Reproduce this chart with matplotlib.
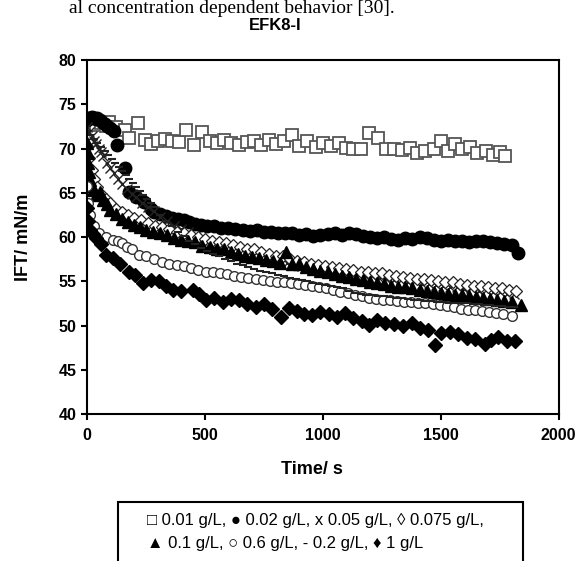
import matplotlib
matplotlib.use('Agg')
import matplotlib.pyplot as plt
from matplotlib.patches import Rectangle

plt.rcParams['font.family'] = ['Liberation Sans', 'DejaVu Sans']

# 0.01 g/L (open squares)
t_001 = [5, 20, 40, 60, 80, 95, 125, 160, 180, 215,
         245, 270, 300, 330, 360, 390, 420, 455, 490, 520,
         550, 580, 610, 645, 680, 710, 740, 770, 800, 835,
         870, 900, 935, 970, 1000, 1035, 1070, 1100, 1130, 1160,
         1195, 1235, 1270, 1300, 1335, 1370, 1400, 1435, 1470, 1503,
         1530, 1561, 1590, 1625, 1655, 1690, 1720, 1750, 1773]
ift_001 = [72.8, 73.0, 72.7, 72.9, 72.6, 73.0, 72.4, 72.1, 71.2, 72.9,
           71.0, 70.5, 70.8, 71.1, 70.9, 70.7, 72.1, 70.4, 71.9, 70.9,
           70.6, 71.0, 70.6, 70.4, 70.7, 70.8, 70.4, 71.0, 70.5, 70.9,
           71.5, 70.3, 70.8, 70.2, 70.6, 70.3, 70.6, 70.1, 70.0, 69.9,
           71.8, 71.2, 70.0, 69.9, 69.8, 70.1, 69.5, 69.7, 70.0, 70.8,
           69.7, 70.5, 69.9, 70.2, 69.5, 69.7, 69.3, 69.6, 69.1]

# 0.02 g/L (filled circles)
t_002 = [0, 8, 15, 22, 30, 38, 45, 55, 65, 75,
         85, 100, 115, 126, 160, 180, 210, 244, 270, 286,
         310, 335, 360, 385, 410, 435, 460, 485, 510, 540,
         570, 600, 630, 660, 690, 720, 750, 780, 810, 840,
         870, 900, 930, 960, 990, 1020, 1050, 1080, 1110, 1140,
         1170, 1200, 1230, 1260, 1290, 1320, 1350, 1380, 1410, 1440,
         1470, 1500, 1530, 1560, 1590, 1620, 1650, 1680, 1710, 1740,
         1770, 1800, 1828]
ift_002 = [73.2, 73.5, 73.4, 73.6, 73.5, 73.3, 73.4, 73.2, 73.0, 72.8,
           72.6, 72.3, 72.0, 70.4, 67.8, 65.1, 64.5, 64.0, 63.2, 62.8,
           62.6, 62.4, 62.2, 62.0, 61.9, 61.7, 61.5, 61.4, 61.2, 61.2,
           61.0, 61.0, 60.9, 60.8, 60.7, 60.8, 60.6, 60.6, 60.4, 60.5,
           60.4, 60.2, 60.3, 60.1, 60.2, 60.3, 60.4, 60.2, 60.5, 60.3,
           60.1, 60.0, 59.9, 60.0, 59.8, 59.7, 59.9, 59.8, 60.0, 59.9,
           59.7, 59.6, 59.7, 59.5, 59.6, 59.4, 59.5, 59.6, 59.4, 59.3,
           59.2, 59.1, 58.2]

# 0.05 g/L (x)
t_005 = [0, 10, 20, 30, 40, 50, 60, 70, 85, 100,
         115, 130, 150, 170, 190, 210, 235, 260, 285, 310,
         340, 370, 400, 430, 460, 490, 520, 550, 580, 610,
         640, 670, 700, 730, 760, 790, 820, 850, 880, 910,
         940, 970, 1000, 1030, 1060, 1090, 1120, 1150, 1180, 1210,
         1240, 1270, 1300, 1330, 1360, 1390, 1420, 1450, 1480, 1510,
         1540, 1570, 1600, 1630, 1660, 1690, 1720, 1750, 1780, 1810]
ift_005 = [72.4, 71.9, 71.4, 70.9, 70.5, 70.0, 69.6, 69.1, 68.4, 67.8,
           67.2, 66.6, 66.0, 65.4, 64.9, 64.5, 63.9, 63.4, 62.9, 62.3,
           61.8, 61.3, 60.9, 60.6, 60.0, 59.7, 59.3, 59.2, 58.9, 58.7,
           58.4, 58.2, 57.9, 57.8, 57.6, 57.4, 57.1, 57.1, 56.8, 56.7,
           56.6, 56.5, 56.3, 56.3, 56.0, 56.0, 55.8, 55.8, 55.6, 55.6,
           55.4, 55.3, 55.2, 55.1, 54.9, 55.0, 54.7, 54.7, 54.6, 54.5,
           54.3, 54.4, 54.1, 54.2, 53.9, 54.0, 53.8, 53.8, 53.6, 53.6]

# 0.075 g/L (open diamonds)
t_0075 = [0, 10, 20, 30, 45, 60, 80, 100, 125, 150,
          175, 200, 230, 260, 290, 320, 350, 380, 410, 440,
          470, 500, 530, 560, 590, 620, 650, 680, 710, 740,
          770, 800, 830, 860, 890, 920, 950, 980, 1010, 1040,
          1070, 1100, 1130, 1160, 1190, 1220, 1250, 1280, 1310, 1340,
          1370, 1400, 1430, 1460, 1490, 1520, 1550, 1580, 1610, 1640,
          1670, 1700, 1730, 1760, 1790, 1820]
ift_0075 = [70.3, 68.9, 67.6, 66.6, 65.6, 64.9, 64.3, 63.8, 63.2, 62.8,
            62.5, 62.2, 61.9, 61.6, 61.3, 61.1, 60.9, 60.6, 60.5, 60.2,
            60.0, 59.8, 59.6, 59.4, 59.3, 59.1, 58.9, 58.7, 58.6, 58.3,
            58.1, 57.9, 57.8, 57.5, 57.3, 57.2, 57.0, 56.8, 56.7, 56.6,
            56.5, 56.4, 56.3, 56.1, 56.0, 55.9, 55.9, 55.7, 55.6, 55.5,
            55.4, 55.3, 55.3, 55.1, 55.0, 54.9, 54.9, 54.7, 54.6, 54.5,
            54.5, 54.3, 54.2, 54.2, 54.0, 53.9]

# 0.1 g/L (filled triangles)
t_01 = [0, 3, 6, 10, 15, 20, 28, 40, 55, 70,
        85, 100, 125, 150, 175, 200, 225, 250, 280, 310,
        340, 370, 400, 430, 460, 490, 520, 550, 580, 610,
        640, 670, 700, 730, 760, 790, 820, 845, 870, 900,
        930, 960, 990, 1020, 1050, 1080, 1110, 1140, 1170, 1200,
        1230, 1260, 1290, 1320, 1350, 1380, 1410, 1440, 1470, 1500,
        1530, 1560, 1590, 1620, 1650, 1680, 1710, 1740, 1770, 1800,
        1842]
ift_01 = [70.6, 69.5, 68.4, 67.3, 66.4, 65.8, 65.3, 64.8, 65.1, 64.2,
          63.7, 63.1, 62.6, 62.0, 61.7, 61.4, 61.1, 60.8, 60.6, 60.5,
          60.2, 59.9, 59.7, 59.6, 59.4, 59.0, 58.9, 58.7, 58.6, 58.3,
          58.1, 57.9, 57.7, 57.6, 57.4, 57.3, 57.1, 58.3, 56.9, 56.9,
          56.6, 56.4, 56.2, 56.0, 55.8, 55.6, 55.5, 55.3, 55.1, 54.9,
          54.8, 54.7, 54.5, 54.4, 54.3, 54.2, 54.0, 53.9, 53.8, 53.7,
          53.6, 53.5, 53.4, 53.3, 53.2, 53.1, 53.0, 52.9, 52.8, 52.7,
          52.3]

# 0.6 g/L (open circles)
t_06 = [0, 5, 15, 30, 50, 80, 110, 130, 151, 170,
        190, 223, 250, 285, 320, 350, 380, 410, 440, 470,
        505, 535, 565, 595, 625, 655, 685, 715, 745, 775,
        805, 835, 865, 895, 925, 955, 985, 1015, 1045, 1075,
        1105, 1135, 1165, 1195, 1225, 1255, 1285, 1315, 1345, 1375,
        1405, 1435, 1465, 1495, 1525, 1555, 1585, 1615, 1645, 1675,
        1705, 1735, 1765, 1800]
ift_06 = [65.8, 63.9, 62.5, 61.3, 60.5, 60.0, 59.7, 59.5, 59.3, 58.9,
          58.6, 58.0, 57.8, 57.5, 57.2, 57.0, 56.8, 56.7, 56.5, 56.3,
          56.1, 56.0, 55.9, 55.8, 55.6, 55.5, 55.4, 55.3, 55.1, 55.0,
          54.9, 54.9, 54.8, 54.7, 54.6, 54.5, 54.4, 54.2, 54.0, 53.8,
          53.7, 53.5, 53.3, 53.1, 53.0, 52.9, 52.9, 52.8, 52.7, 52.7,
          52.6, 52.5, 52.4, 52.3, 52.2, 52.1, 51.9, 51.8, 51.7, 51.6,
          51.5, 51.4, 51.3, 51.1]

# 0.2 g/L (dashes)
t_02 = [0, 15, 30, 45, 60, 75, 90, 105, 120, 135,
        150, 165, 180, 195, 210, 225, 240, 255, 270, 285,
        310, 335, 360, 385, 410, 435, 460, 485, 510, 535,
        560, 585, 610, 635, 660, 685, 710, 735, 760, 785,
        810, 835, 860, 885, 910, 935, 960, 985, 1010, 1035,
        1060, 1085, 1110, 1135, 1160, 1185, 1210, 1235, 1260, 1285,
        1310, 1335, 1360, 1385, 1410, 1435, 1460, 1485, 1510, 1535,
        1560, 1585, 1610, 1635, 1660, 1685, 1710, 1735, 1760, 1785, 1810]
ift_02 = [72.0, 71.5, 71.1, 70.6, 70.2, 69.7, 69.3, 68.8, 68.4, 67.9,
          67.5, 67.0, 66.6, 66.1, 65.7, 65.2, 64.8, 64.3, 63.9, 63.4,
          62.5, 61.8, 61.2, 60.6, 60.1, 59.6, 59.2, 58.8, 58.4, 58.1,
          57.8, 57.5, 57.3, 57.0, 56.8, 56.6, 56.4, 56.2, 56.0, 55.9,
          55.7, 55.6, 55.4, 55.3, 55.1, 55.0, 54.8, 54.7, 54.6, 54.5,
          54.3, 54.2, 53.9, 53.7, 53.6, 53.5, 53.4, 53.3, 53.3, 53.2,
          53.1, 53.1, 53.0, 52.9, 52.9, 52.8, 52.8, 52.7, 52.7, 52.6,
          52.6, 52.5, 52.5, 52.4, 52.4, 52.3, 52.3, 52.2, 52.2, 52.1, 52.1]

# 1 g/L (filled diamonds)
t_1 = [0, 5, 12, 25, 40, 60, 82, 110, 140, 180,
       205, 236, 270, 307, 335, 364, 400, 448, 475, 505,
       540, 575, 610, 645, 680, 716, 750, 785, 822, 855,
       890, 920, 954, 990, 1025, 1060, 1095, 1130, 1165, 1195,
       1230, 1265, 1300, 1340, 1377, 1410, 1445, 1477, 1503, 1540,
       1575, 1610, 1645, 1688, 1715, 1744, 1780, 1815]
ift_1 = [63.3, 61.8, 60.8, 60.3, 59.9, 59.2, 58.0, 57.6, 56.9, 56.1,
         55.7, 54.8, 55.1, 55.0, 54.5, 54.0, 53.9, 54.0, 53.6, 52.9,
         53.1, 52.7, 53.0, 52.9, 52.4, 52.1, 52.4, 51.9, 51.0, 52.0,
         51.6, 51.3, 51.2, 51.5, 51.3, 51.0, 51.4, 50.9, 50.5, 50.1,
         50.6, 50.3, 50.2, 50.0, 50.3, 49.7, 49.5, 47.8, 49.2, 49.3,
         49.0, 48.6, 48.5, 47.9, 48.4, 48.7, 48.2, 48.2]

x_ticks = [0, 500, 1000, 1500, 2000]
y_ticks = [40, 45, 50, 55, 60, 65, 70, 75, 80]

fig = plt.figure(figsize=(5.79, 5.61), dpi=100)
ax = fig.add_axes([0.150, 0.262, 0.815, 0.631])

ax.plot(t_001, ift_001, 's', ms=8, mfc='white', mec='#555555', mew=1.3, ls='none')
ax.plot(t_002, ift_002, 'o', ms=9, color='black', ls='none')
ax.plot(t_005, ift_005, 'x', ms=7, color='#222222', mew=1.0, ls='none')
ax.plot(t_0075, ift_0075, 'D', ms=6, mfc='white', mec='#222222', mew=0.9, ls='none')
ax.plot(t_01, ift_01, '^', ms=8, color='black', ls='none')
ax.plot(t_06, ift_06, 'o', ms=7, mfc='white', mec='#333333', mew=1.0, ls='none')
ax.plot(t_02, ift_02, '_', ms=6, color='#222222', mew=1.5, ls='none')
ax.plot(t_1, ift_1, 'D', ms=7, color='black', ls='none')

ax.set_xlim(0, 2000)
ax.set_ylim(40, 80)
ax.set_xticks(x_ticks)
ax.set_yticks(y_ticks)
for s in ax.spines.values():
    s.set_linewidth(1.5)
ax.tick_params(direction='out', length=4, width=1.5, labelsize=11.5)
ax.tick_params(axis='x', pad=6)
for lab in ax.get_xticklabels() + ax.get_yticklabels():
    lab.set_fontweight('bold')
ax.set_xlabel('Time/ s', fontsize=13, fontweight='bold')
ax.set_ylabel('IFT/ mN/m', fontsize=13, fontweight='bold')
ax.xaxis.set_label_coords(0.477, -0.158)
ax.xaxis.label.set_va('center')
ax.yaxis.set_label_coords(-0.135, 0.5)
ax.yaxis.label.set_va('center')

fig.text(275 / 579, 1 - 25 / 561, 'EFK8-I', ha='center', va='center',
         fontsize=12, fontweight='bold')
# line of the surrounding paper text above the chart
fig.text(395 / 579, 1 - 13 / 561, 'al concentration dependent behavior [30].',
         ha='right', va='baseline', fontsize=14, family=['Liberation Serif', 'DejaVu Serif'])

# legend box drawn as text
fig.patches.append(Rectangle((118 / 579, -0.05), (523 - 118) / 579, 0.05 + 1 - 502 / 561,
                             transform=fig.transFigure, fill=False, lw=1.5, ec='black'))
fig.text(147 / 579, 1 - 525 / 561, '\u25a1 0.01 g/L, \u25cf 0.02 g/L, x 0.05 g/L, \u25ca 0.075 g/L,',
         ha='left', va='baseline', fontsize=12, family=['Liberation Sans', 'DejaVu Sans'])
fig.text(147 / 579, 1 - 548 / 561, '\u25b2 0.1 g/L, \u25cb 0.6 g/L, - 0.2 g/L, \u2666 1 g/L',
         ha='left', va='baseline', fontsize=12, family=['Liberation Sans', 'DejaVu Sans'])

fig.savefig('out.png', dpi=100)
